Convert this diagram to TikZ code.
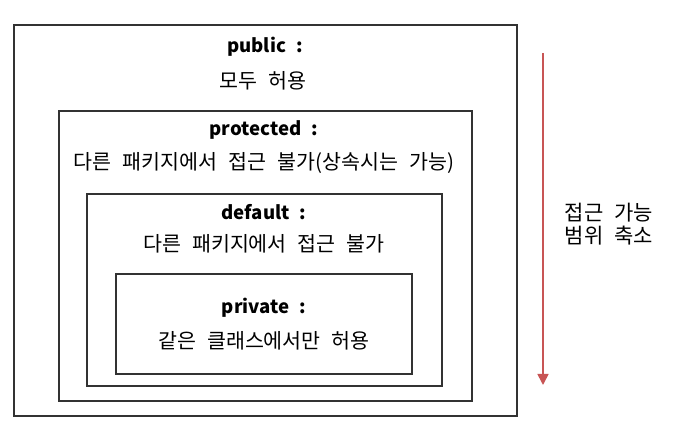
\documentclass[tikz,border=0pt]{standalone}
\usepackage{fontspec}
\setmainfont{Noto Sans CJK KR}[WordSpace=2.4]
\usetikzlibrary{arrows.meta}
\definecolor{arrowred}{RGB}{200,85,85}
\definecolor{boxgray}{RGB}{50,50,50}
\tikzset{
  box/.style={draw=boxgray, line width=1.3pt, minimum width=#1, inner sep=0pt, fill=none},
  lbl/.style={font=\fontsize{18.6}{22}\selectfont\bfseries, inner sep=0pt, anchor=center},
  txt/.style={font=\fontsize{20.6}{23}\selectfont, inner sep=0pt, anchor=center},
  scopearrow/.style={draw=arrowred, line width=1.6pt, -{Triangle[width=11pt,length=11pt]}}
}
\begin{document}
\begin{tikzpicture}[x=1pt,y=-1pt]
\useasboundingbox (0,0) rectangle (689,446);
\node[box=503pt, minimum height=391pt] (pub) at (265.5,220.5) {};
\node[box=413pt, minimum height=290pt] (prot) at (265.5,256) {};
\node[box=355pt, minimum height=192pt] (def) at (264.5,290) {};
\node[box=296pt, minimum height=100pt] (priv) at (264,324) {};
\node[lbl] (publbl) at (265,47) {public :};
\node[txt] (pubtxt) at (263,81) {모두 허용};
\node[lbl] (protlbl) at (264,130) {protected :};
\node[txt] (prottxt) at (264,163) {다른 패키지에서 접근 불가(상속시는 가능)};
\node[lbl] (deflbl) at (264,212) {default :};
\node[txt] (deftxt) at (264,244) {다른 패키지에서 접근 불가};
\node[lbl] (privlbl) at (264,308) {private :};
\node[txt] (privtxt) at (264,341) {같은 클래스에서만 허용};
\coordinate (atop) at (543,53);
\coordinate (abot) at (543,385);
\draw[scopearrow] (atop) -- (abot);
\node[txt, align=center, font=\fontsize{21}{23}\selectfont] (scope) at (609,224) {접근 가능\\범위 축소};
\end{tikzpicture}
\end{document}
